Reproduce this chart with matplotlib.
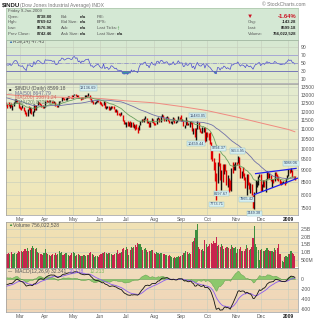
import numpy as np
import pandas as pd
import matplotlib
matplotlib.use("Agg")
import matplotlib.pyplot as plt
from matplotlib.colors import LinearSegmentedColormap

# ---------------- data ----------------
warmup_close = [13314.57, 13248.73, 13444.96, 13619.89, 13625.58, 13727.03, 13432.77, 13473.90, 13517.96, 13339.85,
                13167.20, 13232.47, 13207.27, 13245.64, 13450.65, 13549.33, 13551.69, 13359.61, 13365.87, 13264.82,
                13043.96, 13056.72, 12800.18, 12827.49, 12589.07, 12735.31, 12853.09, 12606.30, 12778.15, 12501.11,
                12466.16, 12159.21, 12099.30, 11971.19, 12270.17, 12378.61, 12207.17, 12383.89, 12480.30, 12442.83,
                12650.36, 12743.19, 12635.16, 12265.13, 12200.10, 12247.00, 12182.13, 12240.01, 12373.41, 12552.24]

close = [
    # Feb
    12376.98, 12348.21, 12337.22, 12427.26, 12284.30, 12381.02, 12570.22, 12684.92, 12694.28, 12582.18, 12266.39,
    # Mar
    12258.90, 12213.80, 12254.99, 12040.39, 11893.69, 11740.15, 12156.81, 12110.24, 12145.74, 11951.09,
    11972.25, 12392.66, 12099.66, 12361.32, 12548.64, 12532.60, 12422.86, 12302.46, 12216.40, 12262.89,
    # Apr
    12654.36, 12608.92, 12626.03, 12609.42, 12612.43, 12576.44, 12527.26, 12581.98, 12325.42, 12302.06, 12362.47,
    12619.27, 12620.49, 12849.36, 12825.02, 12720.23, 12763.22, 12848.95, 12891.86, 12871.75, 12831.94, 12820.13,
    # May
    13010.00, 13058.20, 12969.54, 13020.83, 12814.35, 12866.78, 12745.88, 12876.31, 12832.18, 12898.38, 12992.66,
    12986.80, 13028.16, 12828.68, 12601.19, 12625.62, 12479.63, 12548.35, 12594.03, 12646.22, 12638.32,
    # Jun
    12503.82, 12402.85, 12390.48, 12604.45, 12209.81, 12280.32, 12289.76, 12083.77, 12141.58, 12307.35, 12269.08,
    12160.30, 12029.06, 12063.09, 11842.69, 11842.36, 11807.43, 11811.83, 11453.42, 11346.51, 11350.01,
    # Jul
    11382.26, 11215.51, 11288.53, 11231.96, 11384.21, 11147.44, 11229.02, 11100.54, 11055.19, 10962.54, 11239.28,
    11446.66, 11496.57, 11467.34, 11602.50, 11632.38, 11349.28, 11370.69, 11131.08, 11397.56, 11583.69, 11378.02,
    # Aug
    11326.32, 11284.15, 11615.77, 11656.07, 11431.43, 11734.32, 11782.35, 11642.47, 11532.96, 11615.93, 11659.90,
    11479.39, 11348.55, 11417.43, 11430.21, 11628.06, 11386.25, 11412.87, 11502.51, 11715.18, 11543.55,
    # Sep
    11516.92, 11532.88, 11188.23, 11220.96, 11510.74, 11230.73, 11268.92, 11433.71, 11421.99, 10917.51, 11059.02,
    10609.66, 11019.69, 11388.44, 11015.69, 10854.17, 10825.17, 11022.06, 11143.13, 10365.45, 10850.66,
    # Oct
    10831.07, 10482.85, 10325.38, 9955.50, 9447.11, 9258.10, 8579.19, 8451.19, 9387.61, 9310.99, 8577.91,
    8979.26, 8852.22, 9265.43, 9033.66, 8519.21, 8691.25, 8378.95, 8175.77, 9065.12, 8990.96, 9180.69, 9325.01,
    # Nov
    9319.83, 9625.28, 9139.27, 8695.79, 8943.81, 8870.54, 8693.96, 8282.66, 8835.25, 8497.31,
    8273.58, 8424.75, 7997.28, 7552.29, 8046.42, 8443.39, 8479.47, 8726.61, 8829.04,
    # Dec
    8149.09, 8419.09, 8591.69, 8376.24, 8635.42, 8934.18, 8691.33, 8761.42, 8565.09, 8629.68, 8564.53,
    8924.14, 8824.34, 8604.99, 8579.11, 8519.69, 8419.49, 8468.48, 8515.55, 8483.93, 8668.39, 8776.39,
    # Jan
    9034.69, 8952.89, 9015.10, 8769.70, 8742.46, 8599.18]

high = [
    12600, 12420, 12560, 12450, 12530, 12400, 12600, 12730, 12750, 12690, 12580,
    12310, 12290, 12400, 12250, 12070, 11950, 12170, 12300, 12260, 12200,
    12010, 12420, 12400, 12380, 12610, 12580, 12530, 12450, 12380, 12310,
    12660, 12690, 12660, 12680, 12720, 12620, 12610, 12620, 12580, 12360, 12400,
    12630, 12660, 12890, 12860, 12830, 12800, 12910, 12920, 12920, 12880, 12990,
    13020, 13090, 13060, 13030, 13030, 12900, 12860, 12890, 12900, 13000, 13000,
    13030, 13136.69, 13020, 12840, 12680, 12620, 12580, 12640, 12700, 12690,
    12630, 12580, 12470, 12620, 12600, 12330, 12340, 12300, 12290, 12320, 12340,
    12320, 12160, 12120, 12060, 11900, 11900, 11950, 11810, 11500, 11420,
    11400, 11430, 11380, 11430, 11400, 11400, 11270, 11230, 11280, 11140, 11260,
    11470, 11550, 11580, 11620, 11720, 11630, 11440, 11380, 11410, 11600, 11590,
    11420, 11340, 11630, 11700, 11650, 11760, 11867.11, 11800, 11650, 11690, 11750,
    11690, 11490, 11460, 11450, 11660, 11630, 11460, 11530, 11730, 11710,
    11790, 11570, 11530, 11240, 11660, 11520, 11360, 11450, 11460, 11420, 11080,
    11060, 11060, 11483.05, 11390, 11080, 10920, 11120, 11150, 11140, 10870,
    10860, 10830, 10840, 10320, 9960, 9580, 9400, 8901, 9400, 9794.37, 9310,
    9000, 9270, 9270, 9265, 9030, 8800, 8690, 8600, 9090, 9400, 9300, 9400,
    9380, 9653.95, 9630, 9140, 8990, 9150, 8870, 8700, 8850, 8830,
    8500, 8460, 8430, 8000, 8100, 8600, 8550, 8740, 8830,
    8830, 8430, 8600, 8600, 8650, 8980, 8940, 8900, 8800, 8650, 8650,
    8940, 8930, 8830, 8740, 8620, 8560, 8490, 8530, 8540, 8670, 8800,
    9050, 9070, 9088.06, 9010, 8780, 8769.62]

low = [
    12340, 12230, 12300, 12200, 12250, 12100, 12330, 12520, 12560, 12540, 12230,
    12150, 12070, 12180, 12020, 11850, 11730, 11740, 12080, 11910, 11850,
    11730, 11980, 12090, 12090, 12360, 12440, 12380, 12280, 12190, 12180,
    12270, 12560, 12550, 12540, 12590, 12520, 12480, 12480, 12300, 12260, 12260,
    12370, 12570, 12630, 12770, 12680, 12700, 12710, 12790, 12840, 12800, 12800,
    12820, 13010, 12950, 12900, 12800, 12800, 12700, 12740, 12780, 12830, 12860,
    12940, 12960, 12750, 12590, 12580, 12470, 12460, 12510, 12580, 12600,
    12450, 12370, 12340, 12380, 12200, 12170, 12180, 12070, 12080, 12140, 12200,
    12150, 12000, 11950, 11820, 11800, 11730, 11790, 11440, 11290, 11290,
    11130, 11200, 11180, 11150, 11150, 11140, 11070, 10980, 11030, 10827.71, 10940,
    11230, 11380, 11430, 11390, 11580, 11330, 11340, 11120, 11130, 11390, 11350,
    11240, 11240, 11280, 11560, 11400, 11420, 11700, 11620, 11450, 11480, 11600,
    11450, 11320, 11320, 11300, 11430, 11370, 11360, 11400, 11500, 11520,
    11480, 11440, 11170, 11060, 11230, 11220, 11210, 11100, 11300, 10910, 10740,
    10600, 10459.44, 11020, 11000, 10840, 10800, 10830, 10850, 10365.45, 10370,
    10610, 10450, 10250, 9525, 9430, 9000, 8560, 7773.71, 8450, 9200, 8570,
    8197.67, 8500, 8850, 8990, 8400, 8300, 8100, 8170, 8150, 8900, 9000, 9030,
    9240, 9320, 9120, 8670, 8690, 8780, 8580, 8270, 7965.42, 8400,
    8200, 8080, 7990, 7510, 7449.38, 8050, 8300, 8400, 8700,
    8140, 8150, 8300, 8300, 8100, 8640, 8670, 8690, 8550, 8300, 8480,
    8560, 8750, 8580, 8560, 8420, 8400, 8410, 8460, 8380, 8480, 8650,
    8760, 8900, 8940, 8730, 8640, 8576.96]

volume_m = [
    900, 850, 950, 880, 980, 900, 850, 950, 900, 920, 1080,
    980, 1050, 1000, 1080, 1180, 1100, 1250, 1050, 1150, 1250, 1380, 1280, 1180, 1250, 980, 920, 890, 850, 820, 920,
    1180, 950, 850, 780, 760, 820, 850, 780, 920, 780, 850, 1050, 950, 1020, 820, 850, 920, 950, 820, 720, 780, 950,
    1020, 920, 720, 820, 850, 780, 760, 740, 780, 820, 760, 780, 780, 920, 1020, 850, 780, 650, 720, 740, 680,
    780, 890, 920, 950, 1020, 920, 890, 950, 920, 870, 820, 840, 890, 950, 1120, 870, 950, 1000, 1180, 1250, 1150,
    1300, 1180, 780, 1120, 1300, 1250, 1300, 1450, 1300, 1600, 1550, 1500, 1300, 1120, 1180, 1250, 1150, 980, 1050,
    1080, 1120, 1150,
    920, 850, 980, 950, 890, 920, 950, 890, 850, 820, 780, 740, 780, 760, 680, 630, 650, 620, 680, 740, 680,
    750, 800, 950, 950, 1100, 1000, 900, 950, 900, 1650, 1700, 1900, 2400, 2800, 1300, 1200, 1150, 1200, 1100, 1800, 1500,
    1300, 1400, 1500, 1600, 1500, 1700, 1600, 1950, 1400, 1450, 1350, 1500, 1400, 1200, 1250, 1350, 1350, 1250, 1200,
    1450, 1350, 1250, 1300,
    950, 1200, 1200, 1300, 1100, 1050, 1050, 1200, 1450, 1250, 1150, 1200, 1350, 1900, 2700, 1500, 1300, 1150, 500,
    1150, 1200, 1100, 1100, 1150, 1250, 1150, 1100, 1050, 1100, 1000, 1250, 1150, 1250, 1500, 900, 850, 400, 350,
    700, 750, 700,
    850, 900, 1050, 950, 900, 756]

ma200_day = ["2008-02-14", "2008-03-03", "2008-04-01", "2008-05-01", "2008-06-02", "2008-07-01", "2008-08-01",
             "2008-09-02", "2008-10-01", "2008-11-03", "2008-12-01", "2009-01-02", "2009-01-09"]
ma200_val = [13050, 12960, 12890, 12850, 12790, 12640, 12520, 12300, 12050, 11680, 11350, 10990, 10871]

holidays = ["2007-12-25", "2008-01-01", "2008-01-21", "2008-02-18", "2008-03-21", "2008-05-26",
            "2008-07-04", "2008-09-01", "2008-11-27", "2008-12-25", "2009-01-01"]

month_labels = ["Mar", "Apr", "May", "Jun", "Jul", "Aug", "Sep", "Oct", "Nov", "Dec", "2009"]

# user trendlines (date, value) - they run a little past the last bar
trend_upper = [("2008-11-24", 8860), ("2009-01-12", 9090)]
trend_lower = [("2008-11-21", 8000), ("2009-01-14", 8680)]

price_notes = [("2008-05-19", 13136.69, "up"), ("2008-09-19", 11483.05, "up"), ("2008-09-18", 10459.44, "down"),
               ("2008-10-14", 9794.37, "up"), ("2008-11-04", 9653.95, "up"), ("2009-01-06", 9088.06, "up"),
               ("2008-10-16", 8197.67, "down"), ("2008-10-10", 7773.71, "down"), ("2008-11-13", 7965.42, "down"),
               ("2008-11-21", 7449.38, "down")]

# ---------------- derived ----------------
all_days = pd.bdate_range("2007-12-03", "2009-01-09")
all_days = all_days[~all_days.isin(pd.to_datetime(holidays))]
full_close = pd.Series(warmup_close + close, index=all_days)
nw = len(warmup_close)
days = all_days[nw:]
n = len(close)
idx = np.arange(n)
pos = {d: i for i, d in enumerate(days)}

def di(s):
    t = pd.Timestamp(s)
    if t in pos:
        return pos[t]
    return n - 1 + len(pd.bdate_range(days[-1], t)) - 1

delta = full_close.diff()
gain = delta.clip(lower=0).ewm(alpha=1/14, adjust=False).mean()
loss = (-delta.clip(upper=0)).ewm(alpha=1/14, adjust=False).mean()
rsi = (100 - 100 / (1 + gain / loss)).values[nw:]
ema12 = full_close.ewm(span=12, adjust=False).mean()
ema26 = full_close.ewm(span=26, adjust=False).mean()
macd = ema12 - ema26
sig = macd.ewm(span=9, adjust=False).mean()
macd_v = macd.values[nw:]
sig_v = sig.values[nw:]
hist_v = macd_v - sig_v
ma50 = full_close.rolling(50).mean().values[nw:]
ema20 = full_close.ewm(span=20, adjust=False).mean().values[nw:]
c = np.array(close)
prev = full_close.values[nw - 1:-1]
up = c >= prev

month_idx = []
for i in range(1, n):
    if days[i].month != days[i - 1].month:
        month_idx.append(i)

# ---------------- figure ----------------
W = H = 320
fig = plt.figure(figsize=(3.2, 3.2), dpi=100)
plt.rcParams['font.family'] = ['Liberation Sans', 'DejaVu Sans']
FS = 3.6
XL, XR = 6, 298
XLIM = (0, 230.5)

def box(x0, y0, x1, y1, **kw):
    return fig.add_axes([x0 / W, 1 - y1 / H, (x1 - x0) / W, (y1 - y0) / H], **kw)

def gradient(x0, y0, x1, y1, top, bottom):
    bg = box(x0, y0, x1, y1, zorder=0)
    cm = LinearSegmentedColormap.from_list("g", [top, bottom])
    bg.imshow(np.linspace(0, 1, 64).reshape(-1, 1), cmap=cm, aspect="auto", extent=[0, 1, 0, 1])
    bg.set_axis_off()

def style(ax, yt, ylabels):
    ax.set_facecolor("none")
    ax.set_xlim(*XLIM)
    ax.yaxis.tick_right()
    ax.set_yticks(yt)
    ax.set_yticklabels(ylabels)
    ax.tick_params(axis="y", length=0, pad=2, labelsize=FS, colors="#555555")
    ax.set_xticks(month_idx)
    ax.tick_params(axis="x", length=0, labelbottom=False)
    ax.grid(True, color="#c4ccbc", lw=0.4)
    ax.set_axisbelow(True)
    for s in ax.spines.values():
        s.set_color("#9a9a9a")
        s.set_linewidth(0.5)

# title
fig.text(2 / W, 1 - 5 / H, "$INDU", fontsize=4.4, fontweight="bold", color="#222222", va="center")
fig.text(20 / W, 1 - 5 / H, "(Dow Jones Industrial Average) INDX", fontsize=FS, color="#777777", va="center")
fig.text(305 / W, 1 - 5 / H, "© StockCharts.com", fontsize=FS, color="#777777", va="center", ha="right")

# info panel
info = box(XL, 8, XR, 40, zorder=3)
info.set_facecolor("#d4e8d4")
info.set_xticks([]); info.set_yticks([])
for s in info.spines.values():
    s.set_color("#a8c4a8"); s.set_linewidth(0.5)
info.set_xlim(XL, XR); info.set_ylim(40, 8)
tk = dict(fontsize=3.1, va="center", color="#555555")
tb = dict(fontsize=3.1, va="center", color="#222222", fontweight="bold")
info.text(8, 11, "Friday 9-Jan-2009", **tk)
rows = [("Open:", "8738.80", "Bid:", "P/E:"), ("High:", "8769.62", "Bid Size:", "EPS:"),
        ("Low:", "8576.96", "Ask:", "Last Ticks:"), ("Prev Close:", "8742.46", "Ask Size:", "Last Size:")]
ys = [16.7, 22.3, 28, 33.8]
for (a, b, cc, d), y in zip(rows, ys):
    info.text(8, y, a, **tk)
    info.text(52, y, b, ha="right", **tb)
    info.text(61, y, cc, **tk)
    info.text(80, y, "n/a", **tb)
    info.text(97, y, d, **tk)
info.text(116, 28, "↑", fontsize=4.2, va="center", color="#228822", fontweight="bold")
info.text(117, 33.8, "n/a", **tb)
info.text(250, 16.2, "▼", fontsize=4.5, va="center", ha="center", color="#cc1122")
info.text(296, 16.7, "-1.64%", ha="right", fontsize=4.2, va="center", color="#cc1122", fontweight="bold")
for lab, val, y in [("Chg:", "-143.28", 22.3), ("Last:", "8599.18", 28), ("Volume:", "756,022,528", 33.8)]:
    info.text(248, y, lab, **tk)
    info.text(296, y, val, ha="right", **tb)

# RSI panel
gradient(XL, 40, XR, 83, "#d6e8d2", "#e2eacc")
ax_r = box(XL, 40, XR, 83, zorder=1)
ax_r.plot(idx, rsi, color="#4a4ad0", lw=0.5)
ax_r.axhline(70, color="#a0a0d8", lw=0.6)
ax_r.axhline(30, color="#6a6ab8", lw=0.6)
ax_r.axhline(50, color="#8888cc", lw=0.5, ls="-.")
ax_r.fill_between(idx, rsi, 30, where=rsi < 30, color="#3a9a9a", lw=0, interpolate=True)
ax_r.set_ylim(0, 107.5)
style(ax_r, [10, 30, 50, 70, 90], ["10", "30", "50", "70", "90"])
ax_r.text(0.008, 0.955, "▲", transform=ax_r.transAxes, fontsize=3, color="#3a70b0", va="center")
ax_r.text(0.025, 0.955, "RSI(14) 47.43", transform=ax_r.transAxes, fontsize=FS, color="#555555", va="center")

# price panel
gradient(XL, 84, XR, 215, "#e4ecd0", "#f2e6b6")
ax_p = box(XL, 84, XR, 215, zorder=1)
ax_p.set_yscale("log")
h = np.array(high); l = np.array(low)
ax_p.vlines(idx[up], l[up], h[up], color="#111111", lw=1.0)
ax_p.vlines(idx[~up], l[~up], h[~up], color="#e00000", lw=1.0)
ma200_x = [di(d) for d in ma200_day]
ax_p.plot(ma200_x, ma200_val, color="#f08a80", lw=0.7)
ax_p.plot(idx, ma50, color="#7070a8", lw=0.6)
ax_p.plot(idx, ema20, color="#6aa060", lw=0.6)
for seg in (trend_upper, trend_lower):
    ax_p.plot([di(seg[0][0]), di(seg[1][0])], [seg[0][1], seg[1][1]], color="#2020ee", lw=0.9)
for d, v, where in price_notes:
    ax_p.annotate(f"{v:.2f}", (di(d), v), xytext=(0, 5 if where == "up" else -4), textcoords="offset pixels",
                  fontsize=2.8, color="#334466", ha="center", va="center",
                  bbox=dict(boxstyle="square,pad=0.15", fc="#d8f0f0", ec="#88bbcc", lw=0.3))
ax_p.set_ylim(7240, 13725)
pt = [7500, 8000, 8500, 9000, 9500, 10000, 10500, 11000, 11500, 12000, 12500, 13000, 13500]
style(ax_p, pt, [str(v) for v in pt])
ax_p.yaxis.set_minor_locator(matplotlib.ticker.NullLocator())
ax_p.tick_params(axis="x", labelbottom=True, labelsize=FS, colors="#555555", pad=1.5)
ax_p.set_xticklabels(month_labels)
ax_p.get_xticklabels()[-1].set_fontweight("bold")
ax_p.get_xticklabels()[-1].set_color("#222222")
leg = [("■", "$INDU (Daily) 8599.18", "#222222", "#555555"), ("—", "MA(50) 8647.79", "#7070a8", "#6a6a90"),
       ("—", "MA(200) 10871.24", "#f08a80", "#d06a60"), ("—", "EMA(20) 8705.63", "#6aa060", "#6a8a60")]
for k, (sym, txt, col, tcol) in enumerate(leg):
    y = 0.965 - k * 0.035
    ax_p.text(0.008, y, sym, transform=ax_p.transAxes, fontsize=3, color=col, va="center")
    ax_p.text(0.03, y, txt, transform=ax_p.transAxes, fontsize=FS, color=tcol, va="center")

# volume panel
gradient(XL, 222, XR, 267.5, "#f0e2b6", "#f0dcae")
ax_v = box(XL, 222, XR, 267.5, zorder=1)
vol = np.array(volume_m) * 1e6
ax_v.bar(idx[up], vol[up], width=0.85, color="#3e8e3e", lw=0)
ax_v.bar(idx[~up], vol[~up], width=0.85, color="#c8244e", lw=0)
ax_v.set_ylim(0, 2.95e9)
style(ax_v, [5e8, 1e9, 1.5e9, 2e9, 2.5e9], ["500M", "1.0B", "1.5B", "2.0B", "2.5B"])
ax_v.text(0.008, 0.94, "▲", transform=ax_v.transAxes, fontsize=3, color="#3a8a3a", va="center")
ax_v.text(0.025, 0.94, "Volume 756,022,528", transform=ax_v.transAxes, fontsize=FS, color="#555555", va="center")

# MACD panel
gradient(XL, 268, XR, 312, "#f0dcbc", "#f0d6b8")
ax_m = box(XL, 268, XR, 312, zorder=1)
ax_m.fill_between(idx, hist_v, 0, color="#8cc86c", lw=0.3, edgecolor="#5a9a4a")
ax_m.plot(idx, sig_v, color="#8a5cf0", lw=0.6)
ax_m.plot(idx, macd_v, color="#111111", lw=0.6)
ax_m.set_ylim(-660, 220)
style(ax_m, [-600, -400, -200, 0], ["-600", "-400", "-200", "0"])
ax_m.tick_params(axis="x", labelbottom=True, labelsize=FS, colors="#555555", pad=1.5)
ax_m.set_xticklabels(month_labels)
ax_m.get_xticklabels()[-1].set_fontweight("bold")
ax_m.get_xticklabels()[-1].set_color("#222222")
ax_m.text(0.008, 0.93, "—", transform=ax_m.transAxes, fontsize=3, color="#111111", va="center")
ax_m.text(0.03, 0.93, "MACD(12,26,9) 32.341,", transform=ax_m.transAxes, fontsize=FS, color="#555555", va="center")
ax_m.text(0.215, 0.93, "20.128,", transform=ax_m.transAxes, fontsize=FS, color="#8a5cf0", va="center")
ax_m.text(0.285, 0.93, "12.213", transform=ax_m.transAxes, fontsize=FS, color="#7ab85a", va="center")

fig.savefig("out.png", dpi=100)
